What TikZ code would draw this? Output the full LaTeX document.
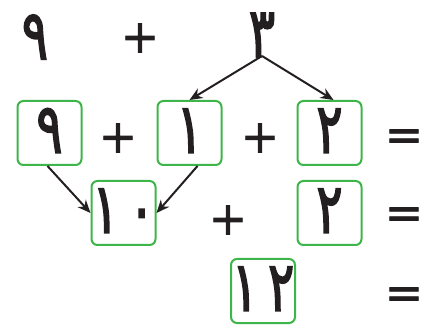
\documentclass[tikz,border=0pt]{standalone}
\usepackage{fontspec}
\setmainfont{DejaVu Sans}
\newfontfamily\arabicfont[Script=Arabic,FakeStretch=0.7,FakeBold=2]{DejaVu Sans}
\newfontfamily\signfont[FakeBold=1.5]{DejaVu Sans}
\usepackage{xcolor}
\usetikzlibrary{arrows.meta,positioning}
\definecolor{ink}{HTML}{231F20}
\definecolor{boxgreen}{HTML}{3DB54A}

\tikzset{
  digit/.style={text=ink,inner sep=0pt,
    font=\arabicfont\fontsize{70}{70}\selectfont},
  numbox/.style={digit,draw=boxgreen,line width=2pt,rounded corners=6pt,
    minimum width=64pt,minimum height=64pt,text height=40pt,text depth=0pt},
  sign/.style={text=ink,inner sep=0pt,font=\signfont\fontsize{46}{46}\selectfont},
  split/.style={draw=ink,line width=2pt,-{Stealth[length=13pt,width=11pt]}}
}
\newcommand{\gap}{\hspace{10pt}}

\begin{document}
\begin{tikzpicture}[x=1pt,y=-1pt]
  \useasboundingbox (0,0) rectangle (424,329);
  % top line
  \node[digit] (nine) at (35,37) {٩};
  \node[sign] (plusA) at (140,38) {+};
  \node[digit] (three) at (262,35) {٣};
  \coordinate (fork) at (262,56);

  % second line
  \node[numbox] (b9) at (49.5,133) {٩};
  \node[sign] (plusB) at (118,138) {+};
  \node[numbox] (b1) at (189.5,133) {١};
  \node[sign] (plusC) at (260,138) {+};
  \node[numbox] (b2) at (329.5,133) {٢};
  \node[sign] (eqA) at (404,140) {=};

  % third line
  \node[numbox] (b10) at (123.5,213) {١\gap٠};
  \node[sign] (plusD) at (228,220) {+};
  \node[numbox] (b2b) at (329.5,213) {٢};
  \node[sign] (eqB) at (404,218) {=};

  % last line
  \node[numbox] (b12) at (263,291) {١\gap٢};
  \node[sign] (eqC) at (404,298) {=};

  \draw[split] (fork) -- (b1.north);
  \draw[split] (fork) -- ([xshift=4pt]b2.north);
  \draw[split] ([xshift=-2pt]b9.south) -- (b10.west);
  \draw[split] ([xshift=8pt]b1.south) -- (b10.east);
\end{tikzpicture}
\end{document}
